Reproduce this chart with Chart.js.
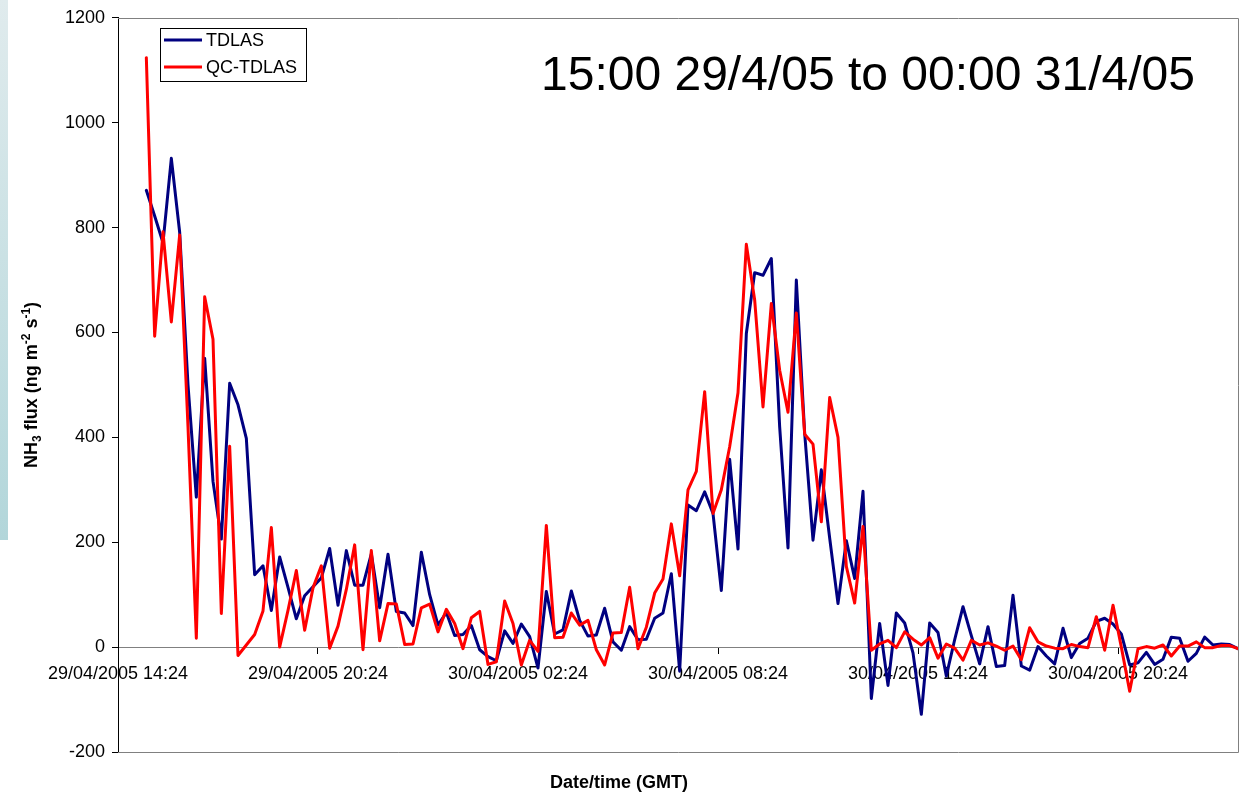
<!DOCTYPE html>
<html>
<head>
<meta charset="utf-8">
<title>NH3 flux</title>
<script src="https://cdn.jsdelivr.net/npm/chart.js@4.4.1/dist/chart.umd.min.js"></script>
<style>
  html, body { margin: 0; padding: 0; background: #ffffff; }
  #wrap { position: relative; width: 1239px; height: 792px; overflow: hidden; }
  #strip { position: absolute; left: 0; top: 0; width: 8px; height: 540px;
           background: linear-gradient(#e0ebed, #b2d6da); }
  #chart { position: absolute; left: 0; top: 0; }
</style>
</head>
<body>
<div id="wrap">
  <div id="strip"></div>
  <canvas id="chart" width="1239" height="792"></canvas>
</div>
<script>
// 15-minute NH3 fluxes (ng m-2 s-1), 29/04/2005 15:15 to 01/05/2005 00:00
const seriesNames = ['TDLAS', 'QC-TDLAS'];
const seriesColors = ['#000080', '#ff0000'];

const tdlas = [
  871, 822, 771, 932, 791, 500, 286, 551, 316, 206, 503, 462, 398, 138, 155, 70,
  172, 114, 54, 98, 115, 132, 188, 80, 184, 118, 118, 178, 75, 177, 68, 65,
  41, 181, 100, 42, 66, 22, 24, 41, -5, -18, -26, 31, 7, 44, 20, -40,
  106, 25, 33, 107, 51, 21, 23, 74, 10, -6, 39, 14, 15, 55, 65, 140,
  -46, 271, 260, 296, 255, 108, 358, 187, 598, 714, 709, 741, 420, 189, 700, 408,
  204, 338, 208, 83, 203, 131, 297, -98, 45, -73, 65, 46, -11, -128, 46, 28,
  -55, 14, 77, 22, -32, 39, -37, -35, 99, -36, -44, 1, -17, -32, 36, -20,
  7, 17, 49, 55, 44, 25, -34, -30, -10, -33, -23, 19, 17, -27, -12, 19,
  4, 6, 5, -3
];

const qcTdlas = [
  1124, 593, 792, 620, 786, 420, 17, 668, 587, 64, 383, -16, 4, 24, 69, 228,
  0, 70, 146, 32, 113, 155, -2, 40, 110, 195, -5, 184, 12, 83, 82, 5,
  6, 75, 82, 29, 72, 45, -3, 56, 68, -33, -28, 88, 45, -34, 13, -8,
  232, 18, 19, 65, 42, 51, -5, -34, 27, 28, 114, -3, 38, 103, 130, 235,
  136, 300, 335, 487, 255, 300, 382, 485, 768, 662, 458, 655, 528, 448, 637, 406,
  387, 239, 476, 400, 154, 84, 230, -6, 6, 13, -1, 29, 15, 4, 18, -21,
  6, -2, -25, 13, 4, 8, 2, -6, 2, -24, 37, 10, 2, -2, -3, 5,
  1, -1, 58, -6, 80, 0, -84, -3, 1, -2, 4, -17, 2, 2, 10, -1,
  -1, 3, 3, -3
];

// time axis, in hours from 29/04/2005 00:00
const firstSampleHour = 15.25;
const sampleStepHours = 0.25;
const xMinHour = 14.4;
const xMaxHour = 48;
const tickHours = [14.4, 20.4, 26.4, 32.4, 38.4, 44.4];
const tickLabels = ['29/04/2005 14:24', '29/04/2005 20:24', '30/04/2005 02:24',
                    '30/04/2005 08:24', '30/04/2005 14:24', '30/04/2005 20:24'];

const yMin = -200, yMax = 1200, yStep = 200;
const periodText = '15:00 29/4/05 to 00:00 31/4/05';
const xTitle = 'Date/time (GMT)';

const FONT = '"Liberation Sans", Arial, Helvetica, sans-serif';

function toPoints(values) {
  return values.map((v, i) => ({ x: firstSampleHour + i * sampleStepHours, y: v }));
}

// frame, period caption, legend box and y title with sub/superscripts
const decorations = {
  id: 'decorations',
  beforeDatasetsDraw(chart) {
    const { ctx, chartArea: a } = chart;
    ctx.save();
    ctx.strokeStyle = '#808080';
    ctx.lineWidth = 1;
    ctx.beginPath();
    const t = Math.round(a.top) + 0.5, r = Math.round(a.right) + 0.5, b = Math.round(a.bottom) + 0.5;
    ctx.moveTo(a.left, t); ctx.lineTo(r, t); ctx.lineTo(r, b); ctx.lineTo(a.left, b);
    ctx.stroke();
    ctx.restore();
  },
  afterDraw(chart) {
    const { ctx, chartArea: a } = chart;
    ctx.save();

    // period caption
    ctx.fillStyle = '#000';
    ctx.font = '48px ' + FONT;
    ctx.textBaseline = 'alphabetic';
    ctx.textAlign = 'left';
    ctx.fillText(periodText, 541, 90);

    // legend
    const lx = 160, ly = 28, lw = 146, lh = 53;
    ctx.fillStyle = '#fff';
    ctx.fillRect(lx, ly, lw, lh);
    ctx.strokeStyle = '#000';
    ctx.lineWidth = 1;
    ctx.strokeRect(lx + 0.5, ly + 0.5, lw, lh);
    ctx.font = '18px ' + FONT;
    ctx.textBaseline = 'middle';
    chart.data.datasets.forEach((ds, i) => {
      const yy = 40 + i * 27;
      ctx.strokeStyle = ds.borderColor;
      ctx.lineWidth = 3;
      ctx.beginPath();
      ctx.moveTo(164, yy); ctx.lineTo(202, yy);
      ctx.stroke();
      ctx.fillStyle = '#000';
      ctx.fillText(ds.label, 206, yy + 1);
    });

    // y axis title
    const parts = [
      { t: 'NH', s: 18, dy: 0 },
      { t: '3', s: 12, dy: 4 },
      { t: ' flux (ng m', s: 18, dy: 0 },
      { t: '-2', s: 12, dy: -7 },
      { t: ' s', s: 18, dy: 0 },
      { t: '-1', s: 12, dy: -7 },
      { t: ')', s: 18, dy: 0 }
    ];
    let total = 0;
    parts.forEach(p => { ctx.font = 'bold ' + p.s + 'px ' + FONT; p.w = ctx.measureText(p.t).width; total += p.w; });
    ctx.translate(37, (a.top + a.bottom) / 2);
    ctx.rotate(-Math.PI / 2);
    ctx.textBaseline = 'alphabetic';
    ctx.fillStyle = '#000';
    let px = -total / 2;
    parts.forEach(p => {
      ctx.font = 'bold ' + p.s + 'px ' + FONT;
      ctx.fillText(p.t, px, p.dy);
      px += p.w;
    });
    ctx.restore();
  }
};

new Chart(document.getElementById('chart'), {
  type: 'line',
  data: {
    datasets: [
      { label: seriesNames[0], data: toPoints(tdlas), borderColor: seriesColors[0], order: 1 },
      { label: seriesNames[1], data: toPoints(qcTdlas), borderColor: seriesColors[1], order: 0 }
    ]
  },
  options: {
    responsive: false,
    animation: false,
    devicePixelRatio: 1,
    elements: {
      line: { borderWidth: 3, tension: 0, borderJoinStyle: 'round', borderCapStyle: 'round', fill: false },
      point: { radius: 0, hoverRadius: 0 }
    },
    layout: { padding: { top: 17, right: 1, bottom: 0, left: 0 } },
    plugins: {
      legend: { display: false },
      tooltip: { enabled: false },
      title: {
        display: true,
        text: xTitle,
        position: 'bottom',
        color: '#000',
        font: { family: FONT, size: 18, weight: 'bold', lineHeight: 1 },
        padding: { top: 22, bottom: 0 }
      }
    },
    scales: {
      x: {
        type: 'linear',
        position: { y: 0 },
        min: xMinHour,
        max: xMaxHour,
        afterBuildTicks: s => { s.ticks = tickHours.map(v => ({ value: v })); },
        afterFit: s => { s.height = 0; },
        ticks: {
          autoSkip: false, maxRotation: 0, minRotation: 0,
          color: '#000', padding: 10,
          font: { family: FONT, size: 18 },
          callback: (v, i) => tickLabels[i]
        },
        grid: { drawOnChartArea: false, drawTicks: true, tickLength: 6, tickColor: '#000', color: '#000' },
        border: { color: '#808080', width: 1 }
      },
      y: {
        min: yMin,
        max: yMax,
        afterFit: s => { s.width = 118; },
        ticks: {
          stepSize: yStep, color: '#000', padding: 7,
          font: { family: FONT, size: 18 },
          callback: v => String(v)
        },
        grid: { drawOnChartArea: false, drawTicks: true, tickLength: 6, tickColor: '#000', color: '#000' },
        border: { color: '#000', width: 1 }
      }
    }
  },
  plugins: [decorations]
});
</script>
</body>
</html>
